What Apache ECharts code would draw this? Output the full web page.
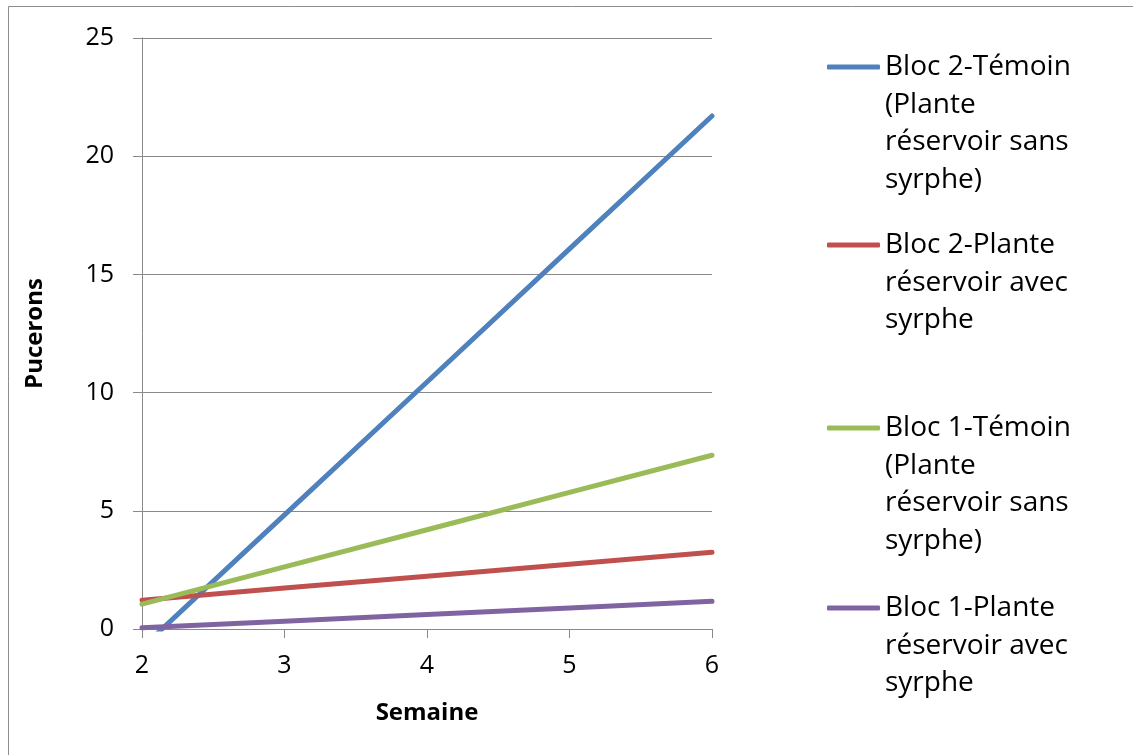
<!DOCTYPE html>
<html>
<head>
<meta charset="utf-8">
<script src="https://cdn.jsdelivr.net/npm/echarts@6/dist/echarts.min.js"></script>
<style>
  html, body { margin: 0; padding: 0; background: #fff; }
  #chart { width: 1133px; height: 755px; }
</style>
</head>
<body>
<div id="chart"></div>
<script>
// Weeks observed
const weeks = [2, 3, 4, 5, 6];

// Aphid counts (Pucerons) per week for each block / treatment
const bloc2Temoin = [-0.79, 4.83, 10.45, 16.08, 21.7];
const bloc2Syrphe = [1.22, 1.73, 2.23, 2.74, 3.25];
const bloc1Temoin = [1.05, 2.63, 4.2, 5.78, 7.35];
const bloc1Syrphe = [0.05, 0.33, 0.61, 0.89, 1.17];

// Series names and their wrapped legend lines
const seriesNames = [
  'Bloc 2-Témoin (Plante réservoir sans syrphe)',
  'Bloc 2-Plante réservoir avec syrphe',
  'Bloc 1-Témoin (Plante réservoir sans syrphe)',
  'Bloc 1-Plante réservoir avec syrphe'
];
const legendLines = [
  ['Bloc 2-Témoin', '(Plante', 'réservoir sans', 'syrphe)'],
  ['Bloc 2-Plante', 'réservoir avec', 'syrphe'],
  ['Bloc 1-Témoin', '(Plante', 'réservoir sans', 'syrphe)'],
  ['Bloc 1-Plante', 'réservoir avec', 'syrphe']
];
const seriesValues = [bloc2Temoin, bloc2Syrphe, bloc1Temoin, bloc1Syrphe];
const colors = ['#4F81BD', '#C0504D', '#9BBB59', '#8064A2'];

const FONT = '"Open Sans", "Noto Sans", sans-serif';
const LINE_H = 37.7;
const legendIconY = [67, 245, 428, 608];

const chart = echarts.init(document.getElementById('chart'), null, { renderer: 'canvas' });

// One legend block per series so each can sit at its own height.
// Legend text is centred on its swatch, so blank lines are put in front of the
// wrapped label to bring its first line level with the swatch.
const legends = seriesNames.map((name, i) => {
  const n = legendLines[i].length;
  const total = (2 * n - 1) * LINE_H;
  const text = new Array(n - 1).fill('').concat(legendLines[i]).join('\n');
  return {
    orient: 'vertical',
    left: 827,
    top: legendIconY[i] - total / 2,
    padding: 0,
    icon: 'roundRect',
    itemWidth: 53,
    itemHeight: 5,
    itemGap: 6,
    selectedMode: false,
    data: [name],
    formatter: () => text,
    textStyle: {
      fontFamily: FONT,
      fontSize: 28,
      color: '#000',
      lineHeight: LINE_H
    }
  };
});

const axisGray = '#898989';

chart.setOption({
  backgroundColor: '#fff',
  animation: false,
  color: colors,
  graphic: [{
    type: 'rect',
    shape: { x: 8.5, y: 6.5, width: 1200, height: 800 },
    style: { fill: 'none', stroke: '#8c8c8c', lineWidth: 1 },
    silent: true,
    z: -1
  }],
  grid: { left: 142, right: 421, top: 38, bottom: 126, containLabel: false },
  legend: legends,
  xAxis: {
    type: 'value',
    min: 2,
    max: 6,
    interval: 1,
    name: 'Semaine',
    nameLocation: 'middle',
    nameGap: 72,
    nameTextStyle: { fontFamily: FONT, fontSize: 24, fontWeight: 'bold', color: '#000' },
    axisLine: { show: true, onZero: false, lineStyle: { color: axisGray, width: 1 } },
    axisTick: { show: true, length: 9, lineStyle: { color: axisGray, width: 1 } },
    axisLabel: { margin: 24, fontFamily: FONT, fontSize: 25, color: '#000' },
    splitLine: { show: false }
  },
  yAxis: {
    type: 'value',
    min: 0,
    max: 25,
    interval: 5,
    name: 'Pucerons',
    nameLocation: 'middle',
    nameGap: 95,
    nameTextStyle: { fontFamily: FONT, fontSize: 24, fontWeight: 'bold', color: '#000' },
    axisLine: { show: true, lineStyle: { color: axisGray, width: 1 } },
    axisTick: { show: true, length: 9, lineStyle: { color: axisGray, width: 1 } },
    axisLabel: { margin: 28, fontFamily: FONT, fontSize: 25, color: '#000' },
    splitLine: { show: true, lineStyle: { color: axisGray, width: 1 } }
  },
  series: seriesNames.map((name, i) => ({
    name: name,
    type: 'line',
    data: weeks.map((w, j) => [w, seriesValues[i][j]]),
    symbol: 'none',
    clip: true,
    lineStyle: { width: 5, color: colors[i], cap: 'round', join: 'round' },
    itemStyle: { color: colors[i] }
  }))
});
</script>
</body>
</html>
